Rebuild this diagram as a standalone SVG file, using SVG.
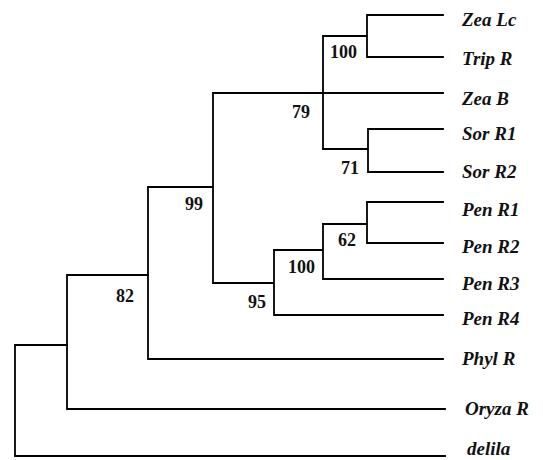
<svg xmlns="http://www.w3.org/2000/svg" width="543" height="460" viewBox="0 0 543 460">
<style>
.br{fill:none;stroke:#000;stroke-width:1.8;stroke-linecap:square}
.leaf{font-family:"Liberation Serif","Times New Roman",serif;font-size:19px;font-weight:bold;font-style:italic;fill:#111}
.bs{font-family:"Liberation Serif","Times New Roman",serif;font-size:18px;font-weight:bold;fill:#111}
</style>
<rect width="543" height="460" fill="#fff"/>
<g id="connectors" class="br">
<path d="M367 15H443M367 57H443M367 15V57M323 36H367M323 36V149"/>
<path d="M213 93H443"/>
<path d="M368 129H443M368 172H443M368 129V172M323 149H368"/>
<path d="M213 93V283M148 187H213"/>
<path d="M367 202H443M367 243H443M367 202V243M323 224H367"/>
<path d="M323 279H443M323 224V279M274 250H323"/>
<path d="M274 315H443M274 250V315M213 283H274"/>
<path d="M148 187V359M148 359H443"/>
<path d="M67 275H148M67 275V409M67 409H445"/>
<path d="M15 345H67M15 345V456M15 456H445"/>
</g>
<g id="leaf-zea-lc"><text class="leaf" x="462" y="26">Zea Lc</text></g>
<g id="leaf-trip-r"><text class="leaf" x="462" y="65">Trip R</text></g>
<g id="leaf-zea-b"><text class="leaf" x="462" y="105">Zea B</text></g>
<g id="leaf-sor-r1"><text class="leaf" x="462" y="140">Sor R1</text></g>
<g id="leaf-sor-r2"><text class="leaf" x="462" y="178">Sor R2</text></g>
<g id="leaf-pen-r1"><text class="leaf" x="462" y="216">Pen R1</text></g>
<g id="leaf-pen-r2"><text class="leaf" x="462" y="253">Pen R2</text></g>
<g id="leaf-pen-r3"><text class="leaf" x="462" y="290">Pen R3</text></g>
<g id="leaf-pen-r4"><text class="leaf" x="462" y="325">Pen R4</text></g>
<g id="leaf-phyl-r"><text class="leaf" x="462" y="365">Phyl R</text></g>
<g id="leaf-oryza-r"><text class="leaf" x="465" y="415">Oryza R</text></g>
<g id="leaf-delila"><text class="leaf" x="467" y="455">delila</text></g>
<g id="node-zea-trip"><text class="bs" x="330" y="58">100</text></g>
<g id="node-andropogoneae"><text class="bs" x="292" y="118">79</text></g>
<g id="node-sor"><text class="bs" x="341" y="174">71</text></g>
<g id="node-panicoid"><text class="bs" x="185" y="210">99</text></g>
<g id="node-pen-r1-r2"><text class="bs" x="338" y="246">62</text></g>
<g id="node-pen-r1-r3"><text class="bs" x="288" y="273">100</text></g>
<g id="node-pen"><text class="bs" x="248" y="308">95</text></g>
<g id="node-phyl"><text class="bs" x="116" y="302">82</text></g>
</svg>
